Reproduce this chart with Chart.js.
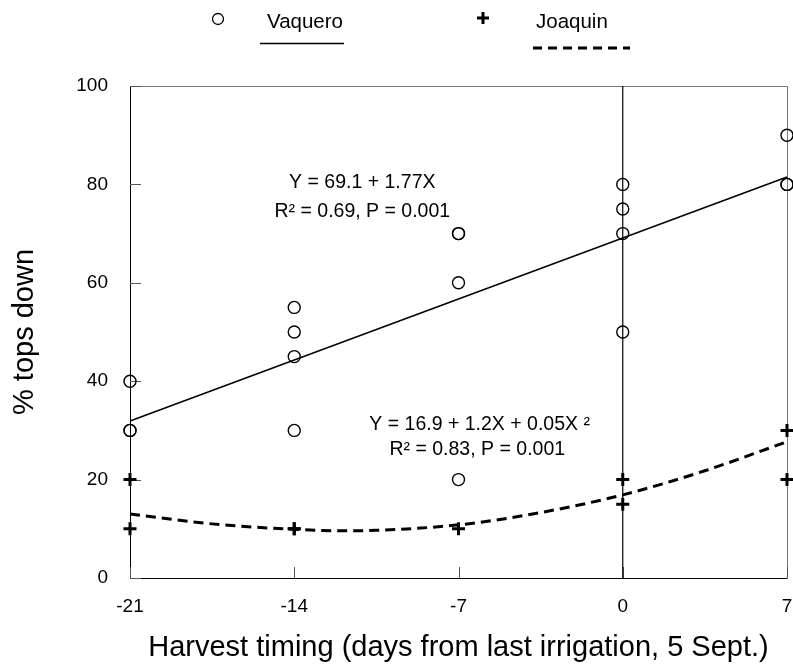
<!DOCTYPE html>
<html>
<head>
<meta charset="utf-8">
<script src="https://cdn.jsdelivr.net/npm/chart.js@4/dist/chart.umd.min.js"></script>
<style>
html,body{margin:0;padding:0;background:#fff;}
#wrap{width:793px;height:668px;position:relative;}
</style>
</head>
<body>
<div id="wrap"><canvas id="c" width="793" height="668"></canvas></div>
<script>
// ---- data ----
const xTicks = [-21, -14, -7, 0, 7];
const yTicks = [0, 20, 40, 60, 80, 100];

const vaqueroX = [-21, -21, -21, -14, -14, -14, -14, -7, -7, -7, -7, 0, 0, 0, 0, 7, 7, 7];
const vaqueroY = [40, 30, 30, 55, 50, 45, 30, 70, 70, 60, 20, 80, 75, 70, 50, 90, 80, 80];

const joaquinX = [-21, -21, -14, -14, -7, 0, 0, 7, 7];
const joaquinY = [20, 10, 10, 10, 10, 20, 15, 30, 20];

// fitted lines
const vaqFitX = [-21, 7];
const vaqFitY = [31.9, 81.5];
const joaFitX = [-21, -17.5, -14, -12, -10.5, -7, -3.5, 0, 3.5, 7];
const joaFitY = [13.0, 11.0, 9.9, 9.6, 9.7, 10.8, 13.3, 16.9, 21.8, 27.7];

const refLineX = [0, 0];
const refLineY = [0, 100];

const seriesNames = ['Vaquero', 'Joaquin'];
const eq1 = ['Y = 69.1 + 1.77X', 'R\u00B2 = 0.69, P = 0.001'];
const eq2 = ['Y = 16.9 + 1.2X + 0.05X \u00B2', 'R\u00B2 = 0.83, P = 0.001'];

const pts = (xs, ys) => xs.map((x, i) => ({x: x, y: ys[i]}));
const FONT = "'Liberation Sans', Arial, sans-serif";

const framePlugin = {
  id: 'frame',
  beforeDatasetsDraw(chart) {
    const {ctx, chartArea: a, scales: {x, y}} = chart;
    ctx.save();
    ctx.strokeStyle = '#777';
    ctx.lineWidth = 1;
    ctx.beginPath();
    ctx.moveTo(a.left, a.top + 0.5);
    ctx.lineTo(a.right + 0.5, a.top + 0.5);
    ctx.lineTo(a.right + 0.5, a.bottom);
    ctx.stroke();
    ctx.strokeStyle = '#000';
    ctx.beginPath();
    ctx.moveTo(a.left + 0.5, a.top);
    ctx.lineTo(a.left + 0.5, a.bottom + 0.5);
    ctx.lineTo(a.right + 0.5, a.bottom + 0.5);
    ctx.stroke();
    ctx.strokeStyle = '#555';
    ctx.beginPath();
    yTicks.forEach(v => {
      const py = Math.round(y.getPixelForValue(v)) + 0.5;
      ctx.moveTo(a.left, py); ctx.lineTo(a.left + 11, py);
    });
    xTicks.forEach(v => {
      const px = Math.round(x.getPixelForValue(v)) + 0.5;
      ctx.moveTo(px, a.bottom); ctx.lineTo(px, a.bottom - 11);
    });
    ctx.stroke();
    ctx.restore();
  },
  afterDraw(chart) {
    const {ctx, scales: {x, y}} = chart;
    ctx.save();
    ctx.fillStyle = '#000';
    ctx.textBaseline = 'middle';
    ctx.font = '19.5px ' + FONT;
    ctx.textAlign = 'center';
    ctx.fillText(eq1[0], x.getPixelForValue(-11.1), y.getPixelForValue(80.4));
    ctx.fillText(eq1[1], x.getPixelForValue(-11.1), y.getPixelForValue(74.5));
    ctx.fillText(eq2[0], x.getPixelForValue(-6.1), y.getPixelForValue(31.2));
    ctx.fillText(eq2[1], x.getPixelForValue(-6.2), y.getPixelForValue(26.1));
    ctx.font = '20.5px ' + FONT;
    ctx.textAlign = 'left';
    ctx.fillText(seriesNames[0], 267, 22);
    ctx.fillText(seriesNames[1], 536, 22);
    ctx.strokeStyle = '#000';
    ctx.lineWidth = 1.3;
    ctx.beginPath(); ctx.arc(218, 19, 5.5, 0, Math.PI * 2); ctx.stroke();
    ctx.beginPath(); ctx.moveTo(260, 43.5); ctx.lineTo(344, 43.5); ctx.stroke();
    ctx.lineWidth = 3;
    ctx.beginPath();
    ctx.moveTo(477, 18); ctx.lineTo(489, 18);
    ctx.moveTo(483, 12); ctx.lineTo(483, 24);
    ctx.stroke();
    ctx.setLineDash([9, 6]);
    ctx.beginPath(); ctx.moveTo(533, 48); ctx.lineTo(630, 48); ctx.stroke();
    ctx.restore();
  }
};

new Chart(document.getElementById('c'), {
  type: 'scatter',
  data: {
    datasets: [
      {label: 'ref', data: pts(refLineX, refLineY), showLine: true, borderColor: '#000', borderWidth: 1.2, pointRadius: 0, order: 5},
      {label: 'Vaquero fit', data: pts(vaqFitX, vaqFitY), showLine: true, borderColor: '#000', borderWidth: 1.5, pointRadius: 0, order: 4},
      {label: 'Joaquin fit', data: pts(joaFitX, joaFitY), showLine: true, borderColor: '#000', borderWidth: 3, borderDash: [10, 6], cubicInterpolationMode: 'monotone', pointRadius: 0, order: 3},
      {label: seriesNames[0], data: pts(vaqueroX, vaqueroY), pointStyle: 'circle', pointRadius: 6, pointBorderWidth: 1.4, borderColor: '#000', backgroundColor: 'rgba(0,0,0,0)', order: 2},
      {label: seriesNames[1], data: pts(joaquinX, joaquinY), pointStyle: 'cross', pointRadius: 6.5, pointBorderWidth: 3, borderColor: '#000', backgroundColor: '#000', order: 1}
    ]
  },
  options: {
    responsive: false,
    animation: false,
    clip: false,
    events: [],
    layout: {autoPadding: false, padding: {top: 86, right: 6, left: 0, bottom: 0}},
    plugins: {legend: {display: false}, tooltip: {enabled: false}},
    scales: {
      x: {
        type: 'linear', min: -21, max: 7,
        afterBuildTicks: s => { s.ticks = xTicks.map(v => ({value: v})); },
        afterFit: s => { s.height = 90; s.paddingLeft = 0; s.paddingRight = 0; },
        grid: {display: false}, border: {display: false},
        ticks: {color: '#000', font: {family: FONT, size: 19}, padding: 9, maxRotation: 0},
        title: {display: true, text: 'Harvest timing (days from last irrigation, 5 Sept.)', color: '#000', font: {family: FONT, size: 29}, padding: {top: 0, bottom: 3}}
      },
      y: {
        type: 'linear', min: 0, max: 100,
        afterBuildTicks: s => { s.ticks = yTicks.map(v => ({value: v})); },
        afterFit: s => { s.width = 130; s.paddingTop = 0; s.paddingBottom = 0; },
        grid: {display: false}, border: {display: false},
        ticks: {color: '#000', font: {family: FONT, size: 19}, padding: 14},
        title: {display: true, text: '% tops down', color: '#000', font: {family: FONT, size: 29}, padding: {top: 8, bottom: 0}}
      }
    }
  },
  plugins: [framePlugin]
});
</script>
</body>
</html>
